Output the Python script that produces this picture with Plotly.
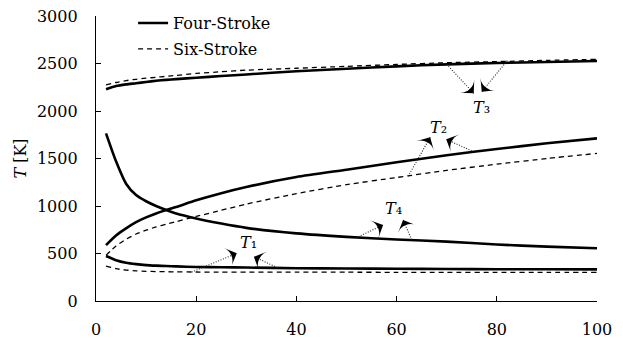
import math
import plotly.graph_objects as go

# Compression ratio sampling points
x_pts = [2, 4, 6, 8, 10, 12, 14, 16, 20, 25, 30, 40, 50, 60, 70, 80, 90, 100]

# Cycle temperatures [K], four-stroke engine
t1_four = [474, 430, 403, 388, 378, 372, 368, 365, 358, 355, 352, 345, 342, 339, 337, 335, 334, 333]
t2_four = [589, 690, 765, 830, 880, 922, 958, 990, 1060, 1135, 1200, 1305, 1382, 1460, 1535, 1600, 1660, 1712]
t3_four = [2228, 2262, 2280, 2292, 2305, 2318, 2328, 2336, 2350, 2368, 2385, 2418, 2445, 2470, 2491, 2505, 2516, 2526]
t4_four = [1765, 1470, 1235, 1115, 1050, 1000, 958, 920, 868, 815, 770, 712, 675, 648, 625, 595, 572, 555]

# Cycle temperatures [K], six-stroke engine
t1_six = [368, 340, 326, 318, 312, 310, 308, 307, 305, 304, 304, 303, 303, 302, 302, 302, 302, 302]
t2_six = [480, 580, 650, 705, 745, 780, 808, 835, 890, 955, 1020, 1130, 1225, 1300, 1375, 1440, 1500, 1554]
t3_six = [2274, 2300, 2320, 2334, 2345, 2355, 2365, 2375, 2395, 2413, 2430, 2450, 2470, 2490, 2508, 2520, 2533, 2544]

# Labels and their pointer arrows
labels = ["₁", "₂", "₃", "₄"]
label_x = [30.5, 68.3, 76.9, 59.3]
label_y = [615, 1830, 2035, 970]
arrow_start_x = [[19.1, 36.2], [62.3, 75.0], [70.0, 82.1], [51.9, 63.0]]
arrow_start_y = [[305, 352], [1312, 1580], [2491, 2530], [665, 645]]
arrow_tip_x = [[28.1, 31.5], [66.7, 69.9], [75.4, 77.0], [57.3, 61.3]]
arrow_tip_y = [[502, 466], [1723, 1702], [2186, 2203], [800, 853]]

x_range = [0, 100]
y_range = [0, 3000]
x_ticks = [0, 20, 40, 60, 80, 100]
y_ticks = [0, 500, 1000, 1500, 2000, 2500, 3000]

W, H = 623, 338
M = dict(l=96, r=26, t=16, b=37, autoexpand=False)
FONT = "DejaVu Serif"

fig = go.Figure()

solid = dict(color="black", width=2.6, shape="spline", smoothing=0.6)
dashed = dict(color="black", width=1.3, dash="5px,4px", shape="spline", smoothing=0.6)

four_series = [t3_four, t2_four, t4_four, t1_four]
for i, ys in enumerate(four_series):
    fig.add_trace(go.Scatter(
        x=x_pts, y=ys, mode="lines", line=solid,
        name="Four-Stroke", legendgroup="four", showlegend=(i == 0),
        hoverinfo="skip"))

six_series = [t3_six, t2_six, t1_six]
for i, ys in enumerate(six_series):
    fig.add_trace(go.Scatter(
        x=x_pts, y=ys, mode="lines", line=dashed,
        name="Six-Stroke", legendgroup="six", showlegend=(i == 0),
        hoverinfo="skip"))

# pixel scale of the axes, used to orient the arrowheads
px_x = (W - M["l"] - M["r"]) / (x_range[1] - x_range[0])
px_y = (H - M["t"] - M["b"]) / (y_range[1] - y_range[0])

annotations = []
head_x, head_y, head_angle = [], [], []
for k in range(len(labels)):
    annotations.append(dict(
        x=label_x[k], y=label_y[k], xref="x", yref="y",
        text="<i>T</i>" + labels[k], showarrow=False,
        font=dict(family=FONT, size=16, color="black")))
    for sx, sy, tx, ty in zip(arrow_start_x[k], arrow_start_y[k],
                              arrow_tip_x[k], arrow_tip_y[k]):
        # dotted pointer shaft
        fig.add_trace(go.Scatter(
            x=[sx, tx], y=[sy, ty], mode="lines",
            line=dict(color="#222222", width=1.1, dash="1px,1.6px"),
            showlegend=False, hoverinfo="skip"))
        dxp = (tx - sx) * px_x
        dyp = -(ty - sy) * px_y
        head_x.append(tx)
        head_y.append(ty)
        head_angle.append(math.degrees(math.atan2(dxp, -dyp)))

# filled arrowheads at the pointer tips
fig.add_trace(go.Scatter(
    x=head_x, y=head_y, mode="markers",
    marker=dict(symbol="arrow-wide", size=14, color="black", angle=head_angle,
                line=dict(width=0)),
    showlegend=False, hoverinfo="skip"))

axis_common = dict(
    showline=True, linecolor="black", linewidth=1.3,
    ticks="inside", ticklen=5, tickwidth=1.3, tickcolor="black",
    showgrid=False, zeroline=False, automargin=False,
    tickfont=dict(family=FONT, size=16, color="black"))

fig.update_layout(
    width=W, height=H, margin=M,
    paper_bgcolor="white", plot_bgcolor="white",
    xaxis=dict(range=x_range, tickvals=x_ticks, ticklabelstandoff=14, **axis_common),
    yaxis=dict(range=y_range, tickvals=y_ticks, ticklabelstandoff=14,
               title=dict(text="<i>T</i> [K]", standoff=6,
                          font=dict(family=FONT, size=16, color="black")),
               **axis_common),
    legend=dict(x=0.074, y=1.0345, xanchor="left", yanchor="top",
                bgcolor="rgba(0,0,0,0)", tracegroupgap=2,
                font=dict(family=FONT, size=16, color="black")),
    annotations=annotations,
    font=dict(family=FONT, size=16, color="black"),
)

fig.write_html("out.html")
